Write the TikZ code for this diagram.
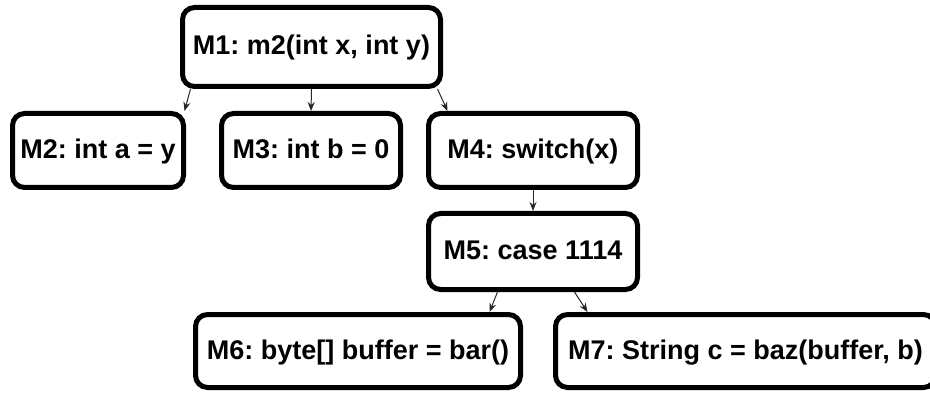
\documentclass[tikz,border=0pt]{standalone}
\usepackage{fontspec}
\setmainfont{Liberation Sans}
\usetikzlibrary{arrows.meta,calc}
\begin{document}
\frenchspacing
\begin{tikzpicture}[x=1pt,y=-1pt,
  mbox/.style={draw=black,line width=5pt,rounded corners=12pt,fill=white,
    inner sep=0pt,font=\fontsize{27}{32}\selectfont\bfseries,
    text height=20pt,text depth=4pt,
    minimum height=#1},
  mbox/.default=76pt,
  conn/.style={draw=black!85,line width=1pt,-{Stealth[length=9pt,width=7pt]}}]
\useasboundingbox (0,0) rectangle (930,393);
\node[mbox=79pt,minimum width=258pt] (M1) at (311.5,47) {M1: m2(int x, int y)};
\node[mbox=74pt,minimum width=171pt] (M2) at (98,150.5) {M2: int a = y};
\node[mbox=74pt,minimum width=179pt] (M3) at (311,150.5) {M3: int b = 0};
\node[mbox=74pt,minimum width=209pt] (M4) at (533,150.5) {M4: switch(x)};
\node[mbox=76pt,minimum width=209pt] (M5) at (533,251.5) {M5: case 1114};
\node[mbox=73pt,minimum width=325pt] (M6) at (358,351) {M6: byte[] buffer = bar()};
\node[mbox=73pt,minimum width=380pt] (M7) at (745.5,351) {M7: String c = baz(buffer, b)};
\draw[conn] ($(M1.south west)+(10.5,0)$) -- ($(M2.north east)+(-1.5,0)$);
\draw[conn] (M1.south) -- (M3.north);
\draw[conn] ($(M1.south east)+(-5.5,0)$) -- ($(M4.north west)+(21.5,0)$);
\draw[conn] (M4.south) -- (M5.north);
\draw[conn] ($(M5.south west)+(71.5,0)$) -- ($(M6.north east)+(-33.5,0)$);
\draw[conn] ($(M5.south west)+(148.5,0)$) -- ($(M7.north west)+(34.5,0)$);
\end{tikzpicture}
\end{document}
